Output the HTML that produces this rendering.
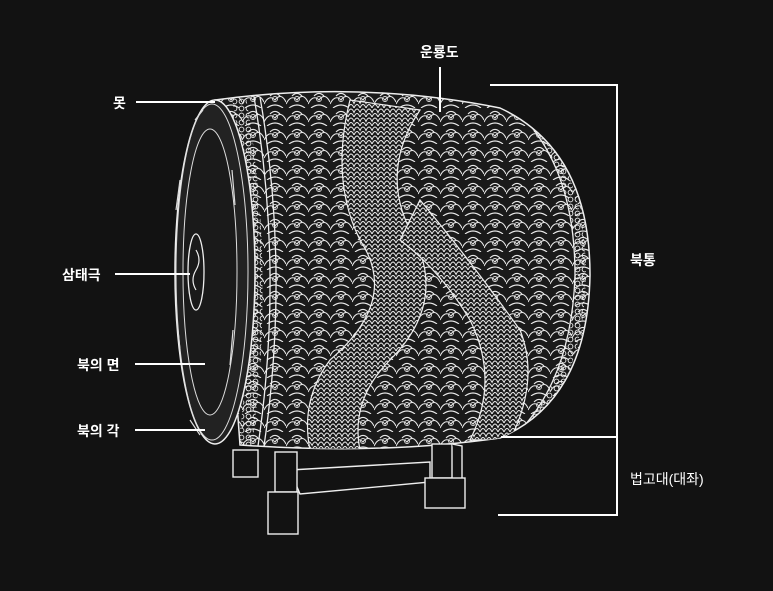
<!DOCTYPE html>
<html><head><meta charset="utf-8"><style>
html,body{margin:0;padding:0;background:#121212;}
svg{display:block}
text{font-family:"Liberation Sans","Noto Sans CJK KR","NanumGothic",sans-serif;fill:#fff;font-size:14px;font-weight:bold}
</style></head><body>
<svg width="773" height="591" viewBox="0 0 773 591" xmlns="http://www.w3.org/2000/svg">
<defs>
<pattern id="cl" width="22" height="18" patternUnits="userSpaceOnUse">
<path d="M0 14 q5 -10 11 -4 q6 -8 11 2 M3 18 q8 -6 16 0 M6 6 q5 -5 10 0" stroke="#e8e8e8" stroke-width="1.1" fill="none"/>
<circle cx="11" cy="9" r="2.5" stroke="#ddd" stroke-width="0.9" fill="none"/>
</pattern>
<pattern id="sc" width="12" height="9" patternUnits="userSpaceOnUse">
<path d="M0 9 q3 -7 6 0 q3 -7 6 0 M-6 4.5 q3 -7 6 0 q3 -7 6 0 q3 -7 6 0" stroke="#eee" stroke-width="1" fill="none"/>
</pattern>
<pattern id="dots" width="7" height="7" patternUnits="userSpaceOnUse">
<circle cx="3.5" cy="3.5" r="2.4" stroke="#eee" stroke-width="0.9" fill="none"/>
</pattern>
<clipPath id="body"><path d="M215 100 Q360 80 500 108 Q590 150 590 275 Q588 400 500 438 Q380 455 240 445 Z"/></clipPath>
</defs>
<!-- body -->
<path d="M215 100 Q360 80 500 108 Q590 150 590 275 Q588 400 500 438 Q380 455 240 445 Z" fill="#1a1a1a" stroke="#eee" stroke-width="1.5"/>
<g clip-path="url(#body)">
<rect x="210" y="80" width="390" height="380" fill="url(#cl)"/>
<path d="M350 100 Q330 180 360 240 Q400 300 330 360 Q300 400 310 450 L360 450 Q350 400 390 360 Q450 300 410 230 Q380 170 420 110 Z" fill="#1a1a1a"/>
<path d="M350 100 Q330 180 360 240 Q400 300 330 360 Q300 400 310 450 L360 450 Q350 400 390 360 Q450 300 410 230 Q380 170 420 110 Z" fill="url(#sc)" stroke="#eee" stroke-width="1.2"/>
<path d="M420 200 Q470 260 520 330 Q540 380 510 440 L470 440 Q500 380 470 320 Q440 270 400 240 Z" fill="#1a1a1a"/>
<path d="M420 200 Q470 260 520 330 Q540 380 510 440 L470 440 Q500 380 470 320 Q440 270 400 240 Z" fill="url(#sc)" stroke="#eee" stroke-width="1.2"/>
<!-- right band -->
<path d="M530 125 Q575 180 575 275 Q572 370 525 425" stroke="#eee" stroke-width="1.3" fill="none"/>
<path d="M545 130 Q586 190 586 275 Q584 370 540 420 L530 420 Q575 360 575 275 Q575 190 535 128 Z" fill="url(#dots)"/>
<!-- left bands -->
<path d="M232 98 Q262 270 238 446 L252 446 Q276 270 246 97 Z" fill="url(#dots)"/>
<path d="M254 97 Q284 270 258 446" stroke="#eee" stroke-width="1.3" fill="none"/>
<path d="M260 97 Q290 270 264 446" stroke="#eee" stroke-width="1.3" fill="none"/>
<path d="M266 97 Q296 270 270 446 L290 446 Q318 270 288 97 Z" fill="#1a1a1a"/>
<path d="M266 97 Q296 270 270 446 L290 446 Q318 270 288 97 Z" fill="url(#cl)"/>
</g>
<!-- face -->
<ellipse cx="215" cy="272" rx="40" ry="172" fill="#222" stroke="#eee" stroke-width="1.5"/>
<ellipse cx="212" cy="272" rx="36" ry="168" fill="none" stroke="#ddd" stroke-width="1"/>
<ellipse cx="210" cy="272" rx="27" ry="143" fill="#1a1a1a" stroke="#ddd" stroke-width="1"/>
<path d="M195 120 l8 -10 M180 180 l-4 30 M177 320 l3 30 M190 420 l10 15 M232 170 l3 35 M233 330 l-3 35" stroke="#ddd" stroke-width="1.2"/>
<ellipse cx="196" cy="272" rx="8" ry="38" fill="none" stroke="#eee" stroke-width="1.3"/>
<path d="M196 250 q6 10 0 20 q-6 10 0 20" stroke="#eee" stroke-width="1.2" fill="none"/>
<!-- stand -->
<g stroke="#eee" stroke-width="1.4" fill="#121212">
<path d="M290 470 L430 462 L430 482 L300 494 Z"/>
<rect x="233" y="450" width="25" height="27"/>
<rect x="275" y="452" width="22" height="40"/>
<rect x="268" y="492" width="30" height="42"/>
<rect x="432" y="444" width="20" height="34"/>
<rect x="425" y="478" width="40" height="30"/>
<path d="M452 444 L462 446 L462 478"/>
</g>
<!-- leader lines -->
<g stroke="#fff" stroke-width="2" fill="none">
<line x1="136" y1="102" x2="215" y2="102"/>
<line x1="115" y1="274" x2="190" y2="274"/>
<line x1="135" y1="364" x2="205" y2="364"/>
<line x1="135" y1="430" x2="205" y2="430"/>
<line x1="440" y1="67" x2="440" y2="112"/>
<polyline points="490,85 617,85 617,515 498,515"/>
<line x1="501" y1="437" x2="617" y2="437"/>
</g>
<text x="113" y="108">못</text>
<text x="62" y="280">삼태극</text>
<text x="77" y="370">북의 면</text>
<text x="77" y="436">북의 각</text>
<text x="420" y="57">운룡도</text>
<text x="630" y="265">북통</text>
<text x="630" y="484" style="font-weight:normal">법고대(대좌)</text>
</svg>
</body></html>
